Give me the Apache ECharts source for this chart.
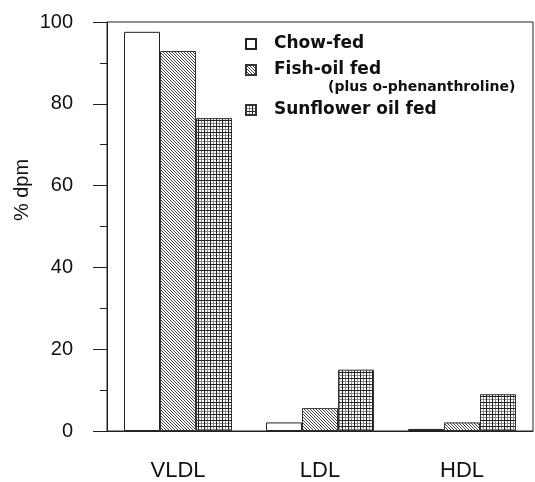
<!DOCTYPE html>
<html>
<head>
<meta charset="utf-8">
<script src="https://cdn.jsdelivr.net/npm/echarts@6/dist/echarts.min.js"></script>
<style>
  html, body { margin: 0; padding: 0; background: #fff; }
  #chart { width: 535px; height: 482px; }
</style>
</head>
<body>
<div id="chart"></div>
<script>
// data
const categories = ['VLDL', 'LDL', 'HDL']
const seriesNames = ['Chow-fed', 'Fish-oil fed', 'Sunflower oil fed']
const chowFed = [97.6, 2.1, 0.5]
const fishOilFed = [92.9, 5.6, 2.1]
const sunflowerFed = [76.5, 15.0, 9.0]
const yTicks = [0, 20, 40, 60, 80, 100]

// fill patterns
function hatchPattern() {
  const c = document.createElement('canvas')
  c.width = 3; c.height = 3
  const ctx = c.getContext('2d')
  ctx.fillStyle = '#fff'
  ctx.fillRect(0, 0, 3, 3)
  ctx.fillStyle = '#444'
  for (let i = 0; i < 3; i++) ctx.fillRect(i, i, 1, 1)
  return { image: c, repeat: 'repeat' }
}
function gridPattern() {
  const c = document.createElement('canvas')
  c.width = 6; c.height = 6
  const ctx = c.getContext('2d')
  ctx.fillStyle = '#fff'
  ctx.fillRect(0, 0, 6, 6)
  ctx.fillStyle = '#888'
  ctx.fillRect(3, 0, 1, 6)
  ctx.fillRect(0, 3, 6, 1)
  ctx.fillStyle = '#222'
  ctx.fillRect(0, 0, 1, 6)
  ctx.fillRect(0, 0, 6, 1)
  return { image: c, repeat: 'repeat' }
}

const chart = echarts.init(document.getElementById('chart'), null, { renderer: 'canvas' })

const legendText = {
  fontFamily: 'DejaVu Sans',
  fontSize: 17,
  fontWeight: 'bold',
  color: '#111',
  lineHeight: 18,
  padding: [0, 0, 0, 13]
}

function makeLegend(name, top) {
  return {
    data: [{ name: name, icon: 'rect' }],
    left: 245,
    top: top,
    padding: 0,
    itemWidth: 10,
    itemHeight: 10,
    selectedMode: false,
    textStyle: legendText
  }
}

const option = {
  animation: false,
  grid: {
    left: 107, right: 2, top: 22, bottom: 51,
    show: true,
    borderColor: '#222',
    borderWidth: 1
  },
  legend: [
    makeLegend(seriesNames[0], 35),
    makeLegend(seriesNames[1], 61),
    makeLegend(seriesNames[2], 101)
  ],
  graphic: [
    {
      type: 'text',
      left: 328,
      top: 80,
      style: {
        text: '(plus o-phenanthroline)',
        font: 'bold 14px "DejaVu Sans"',
        fill: '#111'
      }
    },
    {
      type: 'text',
      x: 22,
      y: 190,
      rotation: Math.PI / 2,
      style: {
        text: '% dpm',
        font: '20px "Liberation Sans"',
        fill: '#111',
        align: 'center',
        verticalAlign: 'middle'
      }
    }
  ],
  xAxis: {
    type: 'category',
    data: categories,
    axisLine: { lineStyle: { color: '#222', width: 1 } },
    axisTick: { alignWithLabel: true, length: 14, lineStyle: { color: '#222' } },
    axisLabel: {
      margin: 29,
      fontFamily: 'Liberation Sans',
      fontSize: 22,
      color: '#111'
    }
  },
  yAxis: {
    type: 'value',
    min: yTicks[0],
    max: yTicks[yTicks.length - 1],
    interval: 20,
    splitLine: { show: false },
    axisLine: { show: true, lineStyle: { color: '#222', width: 1 } },
    axisTick: { show: true, length: 14, lineStyle: { color: '#222' } },
    minorTick: { show: true, splitNumber: 2, length: 7, lineStyle: { color: '#222' } },
    axisLabel: {
      margin: 34,
      fontFamily: 'Liberation Sans',
      fontSize: 20,
      color: '#111'
    }
  },
  series: [
    {
      name: seriesNames[0],
      type: 'bar',
      data: chowFed,
      barWidth: 36,
      barGap: '0%',
      itemStyle: { color: '#fff', borderColor: '#222', borderWidth: 1 }
    },
    {
      name: seriesNames[1],
      type: 'bar',
      data: fishOilFed,
      barWidth: 36,
      barGap: '0%',
      itemStyle: { color: hatchPattern(), borderColor: '#333', borderWidth: 1 }
    },
    {
      name: seriesNames[2],
      type: 'bar',
      data: sunflowerFed,
      barWidth: 36,
      barGap: '0%',
      itemStyle: { color: gridPattern(), borderColor: '#333', borderWidth: 1 }
    }
  ]
}

chart.setOption(option)
</script>
</body>
</html>
